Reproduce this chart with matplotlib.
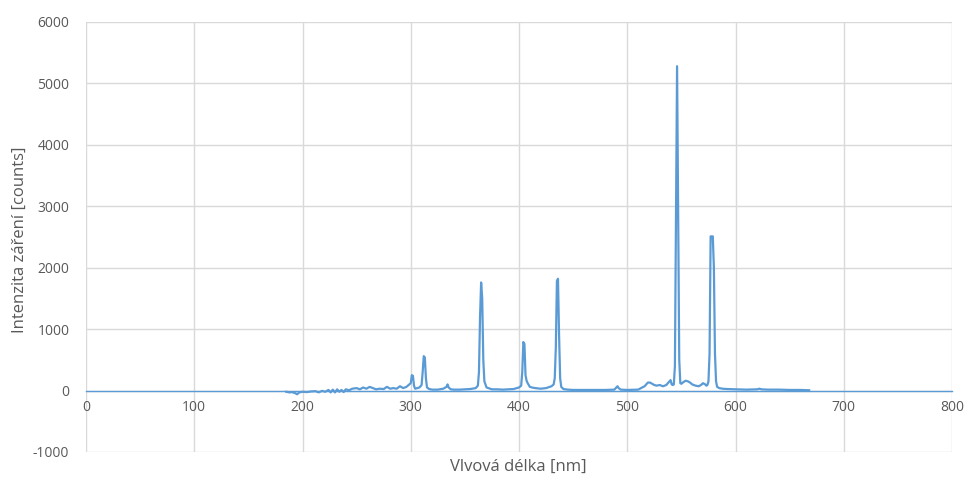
import matplotlib.pyplot as plt

# Emission spectrum (Hg lamp), wavelength in nm and intensity in counts
wavelength = [
    185, 188, 190, 193, 195, 197, 200, 204, 208, 212, 215, 218, 221, 224, 226,
    228, 230, 232, 234, 236, 238, 240, 243, 246, 250, 253, 256, 259, 262, 265,
    268, 271, 275, 278, 281, 284, 287, 290, 293, 296, 298, 300, 301, 302, 303,
    304, 306, 308, 310, 311, 312, 313, 314, 315, 317, 320, 325, 330, 333, 334,
    335, 337, 340, 345, 350, 355, 360, 362, 363, 364, 365, 366, 367, 368, 370,
    375, 380, 385, 390, 395, 400, 402, 403, 404, 405, 406, 407, 408, 409, 410,
    412, 415, 420, 425, 430, 432, 433, 434, 435, 436, 437, 438, 439, 441, 445,
    450, 460, 470, 480, 488, 490, 491, 492, 494, 500, 510, 516, 519, 521, 523,
    525, 527, 530, 533, 536, 538, 540, 541, 542, 543, 544, 545, 546, 547, 548,
    549, 550, 552, 554, 556, 558, 560, 563, 566, 568, 570, 572, 573, 574, 575,
    576, 577, 578, 579, 580, 581, 582, 583, 585, 588, 592, 600, 610, 620, 622,
    624, 630, 640, 650, 660, 668,
]
intensity = [
    -20, -30, -25, -40, -60, -30, -20, -25, -15, -10, -30, -5, -20, 10, -30,
    15, -30, 20, -20, 10, -25, 20, 5, 30, 40, 20, 50, 30, 60, 40,
    20, 30, 25, 60, 30, 40, 30, 70, 40, 60, 90, 120, 250, 240, 80,
    30, 40, 50, 90, 300, 560, 540, 200, 50, 25, 15, 15, 30, 60, 100,
    50, 20, 15, 15, 20, 25, 40, 80, 300, 1200, 1760, 1500, 500, 150, 50,
    20, 20, 15, 20, 25, 50, 80, 300, 790, 760, 250, 160, 120, 90, 60,
    50, 40, 30, 40, 70, 100, 200, 700, 1780, 1820, 900, 200, 60, 25, 15,
    10, 10, 10, 10, 15, 50, 70, 40, 15, 10, 15, 70, 130, 130, 110,
    90, 80, 90, 70, 90, 130, 170, 100, 90, 100, 400, 2800, 5280, 3000, 500,
    120, 110, 140, 160, 150, 130, 100, 80, 70, 90, 120, 100, 80, 90, 150,
    600, 2510, 2510, 2510, 2000, 600, 150, 60, 40, 30, 25, 20, 15, 20, 30,
    20, 15, 15, 10, 10, 5,
]

blue = '#5B9BD5'
grey_text = '#595959'

plt.rcParams['axes.unicode_minus'] = False

fig = plt.figure(figsize=(9.64, 4.79), dpi=100)
ax = fig.add_axes([0.0892, 0.0564, 0.8984, 0.8977])

ax.plot(wavelength, intensity, color=blue, linewidth=1.6, solid_joinstyle='round')

ax.set_xlim(0, 800)
ax.set_ylim(-1000, 6000)
ax.set_xticks(range(0, 801, 100))
ax.set_yticks(range(-1000, 6001, 1000))
ax.grid(True, color='#D9D9D9', linewidth=1.0)
ax.set_axisbelow(True)

for side in ['top', 'right', 'left']:
    ax.spines[side].set_visible(False)
# horizontal axis crosses at zero
ax.spines['bottom'].set_position(('data', 0))
ax.spines['bottom'].set_color(blue)
ax.spines['bottom'].set_linewidth(1.0)
ax.spines['bottom'].set_zorder(1)

ax.tick_params(axis='both', length=0, labelsize=10, labelcolor=grey_text)
ax.tick_params(axis='x', pad=7)
ax.tick_params(axis='y', pad=12)
for lab in ax.get_xticklabels() + ax.get_yticklabels():
    lab.set_fontfamily('Open Sans')

fig.text(0.538, 0.026, 'Vlvová délka [nm]', ha='center', va='center',
         fontsize=12, color=grey_text, family='Open Sans')
fig.text(0.021, 0.5, 'Intenzita záření [counts]', rotation=90,
         ha='center', va='center', fontsize=12, color=grey_text, family='Open Sans')

fig.savefig('out.png', dpi=100)
